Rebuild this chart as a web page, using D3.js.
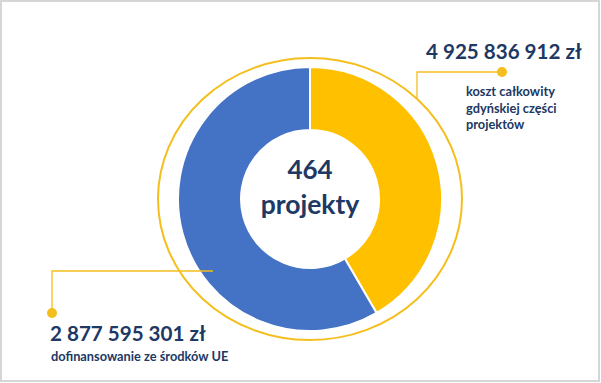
<!DOCTYPE html>
<html>
<head>
<meta charset="utf-8">
<script src="https://cdn.jsdelivr.net/npm/d3@7"></script>
<style>
  html, body { margin: 0; padding: 0; background: #ffffff; }
  svg { display: block; }
  text { font-family: Lato, "Open Sans", sans-serif; font-weight: bold; fill: #203864; }
</style>
</head>
<body>
<svg id="chart" width="601" height="383"></svg>
<script>
// ---- data ----
const sliceNames = ["pozostała część kosztów", "dofinansowanie ze środków UE"];
const sliceValues = [2048241611, 2877595301];
const sliceColors = ["#FFC000", "#4472C4"];
const totalCostLabel = "4 925 836 912 zł";
const totalCostDesc = ["koszt całkowity", "gdyńskiej części", "projektów"];
const euLabel = "2 877 595 301 zł";
const euDesc = "dofinansowanie ze środków UE";
const centerLines = ["464", "projekty"];

// ---- layout ----
const svg = d3.select("#chart");
const cx = 310, cy = 199;
const innerR = 69, outerR = 132;
const ringRx = 152, ringRy = 141;
const accent = "#F4BE1C";

// frame
svg.append("rect")
  .attr("x", 1).attr("y", 1).attr("width", 598).attr("height", 380)
  .attr("fill", "none").attr("stroke", "#d6d6d6").attr("stroke-width", 2);

const g = svg.append("g").attr("transform", `translate(${cx},${cy})`);

// outer thin ring
g.append("ellipse")
  .attr("cx", 0).attr("cy", 0).attr("rx", ringRx).attr("ry", ringRy)
  .attr("fill", "none").attr("stroke", accent).attr("stroke-width", 2);

const pie = d3.pie().sort(null).value(d => d)(sliceValues);
const arc = d3.arc().innerRadius(innerR).outerRadius(outerR);

g.selectAll("path.slice")
  .data(pie)
  .join("path")
  .attr("class", "slice")
  .attr("d", arc)
  .attr("fill", (d, i) => sliceColors[i])
  .attr("stroke", "#ffffff")
  .attr("stroke-width", 2);

// center text
g.append("text").attr("x", 0).attr("y", -20)
  .attr("text-anchor", "middle").attr("font-size", 26).text(centerLines[0]);
g.append("text").attr("x", 0).attr("y", 15)
  .attr("text-anchor", "middle").attr("font-size", 26.5).text(centerLines[1]);

// ---- top-right callout ----
const tr = { dotX: 502, dotY: 72, elbowX: 417 };
const trEndY = cy - ringRy * Math.sqrt(1 - Math.pow((tr.elbowX - cx) / ringRx, 2));
svg.append("polyline")
  .attr("points", `${tr.dotX},${tr.dotY} ${tr.elbowX},${tr.dotY} ${tr.elbowX},${trEndY}`)
  .attr("fill", "none").attr("stroke", accent).attr("stroke-width", 1.3);
svg.append("circle").attr("cx", tr.dotX).attr("cy", tr.dotY).attr("r", 5).attr("fill", accent);

svg.append("text").attr("x", 426).attr("y", 58.5)
  .attr("font-size", 20.6).text(totalCostLabel);
totalCostDesc.forEach((t, i) => {
  svg.append("text").attr("x", 466).attr("y", 96 + i * 16.5)
    .attr("font-size", 12.8).text(t);
});

// ---- bottom-left callout ----
const bl = { dotX: 52, dotY: 313, elbowY: 271, endX: 213 };
svg.append("polyline")
  .attr("points", `${bl.endX},${bl.elbowY} ${bl.dotX},${bl.elbowY} ${bl.dotX},${bl.dotY}`)
  .attr("fill", "none").attr("stroke", accent).attr("stroke-width", 1.3);
svg.append("circle").attr("cx", bl.dotX).attr("cy", bl.dotY).attr("r", 5).attr("fill", accent);

svg.append("text").attr("x", 50).attr("y", 341)
  .attr("font-size", 20.6).text(euLabel);
svg.append("text").attr("x", 51).attr("y", 361)
  .attr("font-size", 12.8).text(euDesc);
</script>
</body>
</html>
